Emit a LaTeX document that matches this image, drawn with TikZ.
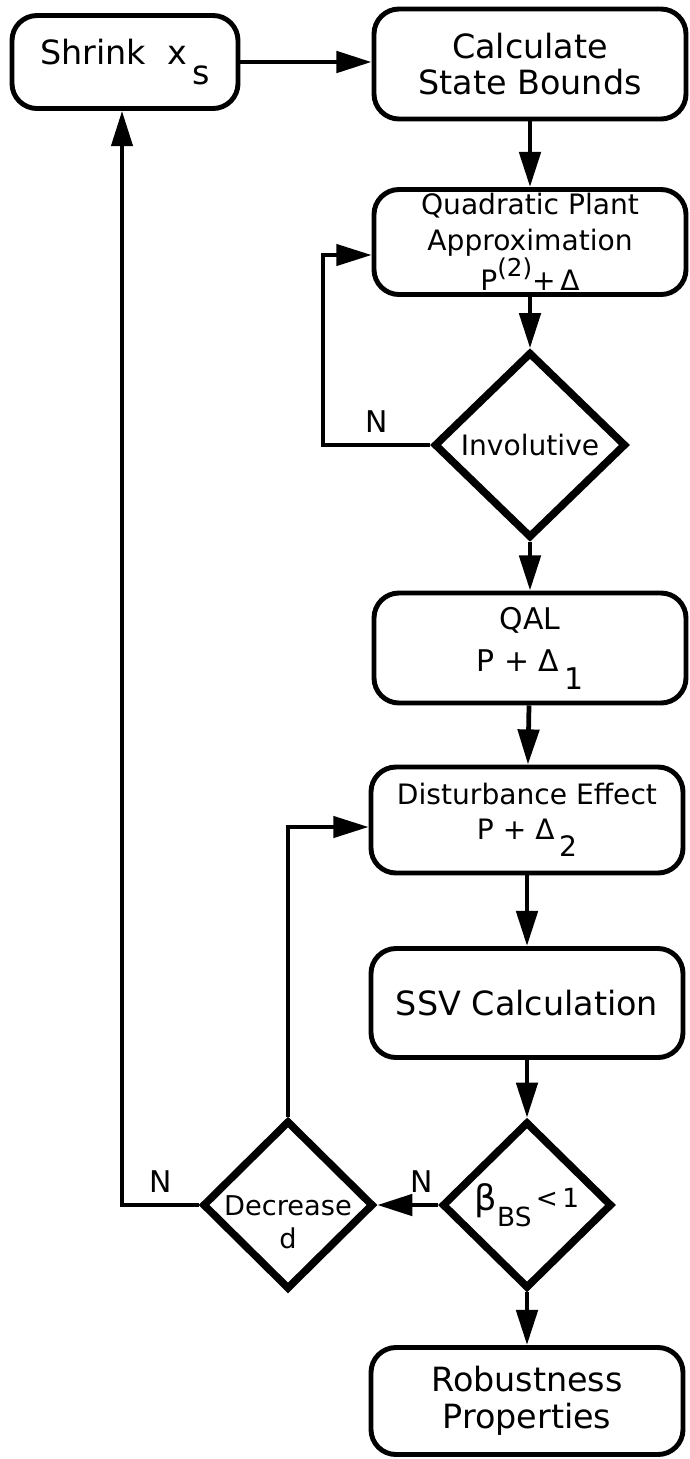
\documentclass[tikz,border=0pt]{standalone}
\usepackage{fontspec}
\setmainfont{DejaVu Sans}
\usepackage{xcolor}
\usepackage{tikz}
\usetikzlibrary{positioning,shapes,arrows.meta}

\newcommand{\bigtxt}{\fontsize{19}{21}\selectfont}
\newcommand{\smalltxt}{\fontsize{16}{20}\selectfont}
\newcommand{\lowr}[1]{\raisebox{-.6em}{#1}}
\newcommand{\highr}[1]{\raisebox{.5em}{\fontsize{14}{14}\selectfont #1}}

\begin{document}
\begin{tikzpicture}
[x=0.2mm, y=-0.2mm, >={Triangle[length=20pt,width=12pt]},
    every node/.style={align=center, inner sep=0pt},
    block/.style={rectangle, rounded corners=5mm, draw=black, line width=2.8pt,
        minimum width=62.4mm, minimum height=22mm, font=\bigtxt},
    decision/.style={diamond, draw=black, line width=4.3pt, aspect=1, font=\smalltxt},
    flow/.style={draw=black, line width=2.7pt, ->},
    back/.style={draw=black, line width=2.3pt},
    tag/.style={font=\fontsize{17}{17}\selectfont}
    ]
    \useasboundingbox (0,0) rectangle (690,1459);

    % main column
    \node[block, minimum width=45.2mm, minimum height=18.6mm] (shrink) at (125,62) {Shrink\ \ x\,\lowr{s}};
    \node[block] (bounds) at (530,64) {Calculate\\State Bounds};
    \node[block, font=\smalltxt, minimum height=21mm] (quad) at (530,242) {Quadratic Plant\\Approximation\\P\highr{(2)}+\,Δ};
    \node[decision, minimum width=38.4mm, minimum height=37.2mm] (invol) at (530,445) {Involutive};
    \node[block, font=\fontsize{17}{24}\selectfont] (qal) at (530,648) {QAL\\P + Δ\,\lowr{1}};
    \node[block, font=\smalltxt, minimum height=21.2mm] (dist) at (527,820) {Disturbance Effect\\P + Δ\,\lowr{2}};
    \node[block, minimum height=21.8mm] (ssv) at (527,1003) {SSV Calculation};
    \node[decision, minimum width=34mm, minimum height=33.4mm, font=\fontsize{15}{15}\selectfont] (beta) at (527,1205)
        {{\fontsize{20}{20}\selectfont β}\lowr{BS}\,\raisebox{.1em}{<\,1}};
    \node[block, minimum height=21.4mm] (robust) at (527,1401) {Robustness\\Properties};

    % side decision, text set lower than the centre
    \node[decision, minimum width=34.2mm, minimum height=33.8mm] (decr) at (288,1205) {};
    \node[font=\fontsize{15.5}{19}\selectfont] (decrtxt) at ([yshift=-3.4mm]decr.center) {Decrease\\d};

    \coordinate (invturn) at (323,445);
    \coordinate (bigturn) at (122,1205);

    % forward path
    \draw[flow] (shrink.east) -- (shrink.east -| bounds.west);
    \draw[flow] (bounds) -- (quad);
    \draw[flow] (quad) -- (invol);
    \draw[flow] (invol) -- (qal);
    \draw[flow] (qal) -- (dist);
    \draw[flow] (dist) -- (ssv);
    \draw[flow] (ssv) -- (beta);
    \draw[flow] (beta) -- (robust);
    \draw[flow] (beta) -- node[tag, above=2mm, pos=.27] (nbeta) {N} (decr);

    % feedback loops
    \draw[back, ->] (invol.west) -- node[tag, above=2mm] (ninv) {N} (invturn) |- ([yshift=-2.6mm]quad.west);
    \draw[back, ->] (decr.north) |- ([yshift=-1.4mm]dist.west);
    \draw[back, ->] (decr.west) -- node[tag, above=2mm] (ndecr) {N} (bigturn) -- (bigturn |- shrink.south);
\end{tikzpicture}
\end{document}
